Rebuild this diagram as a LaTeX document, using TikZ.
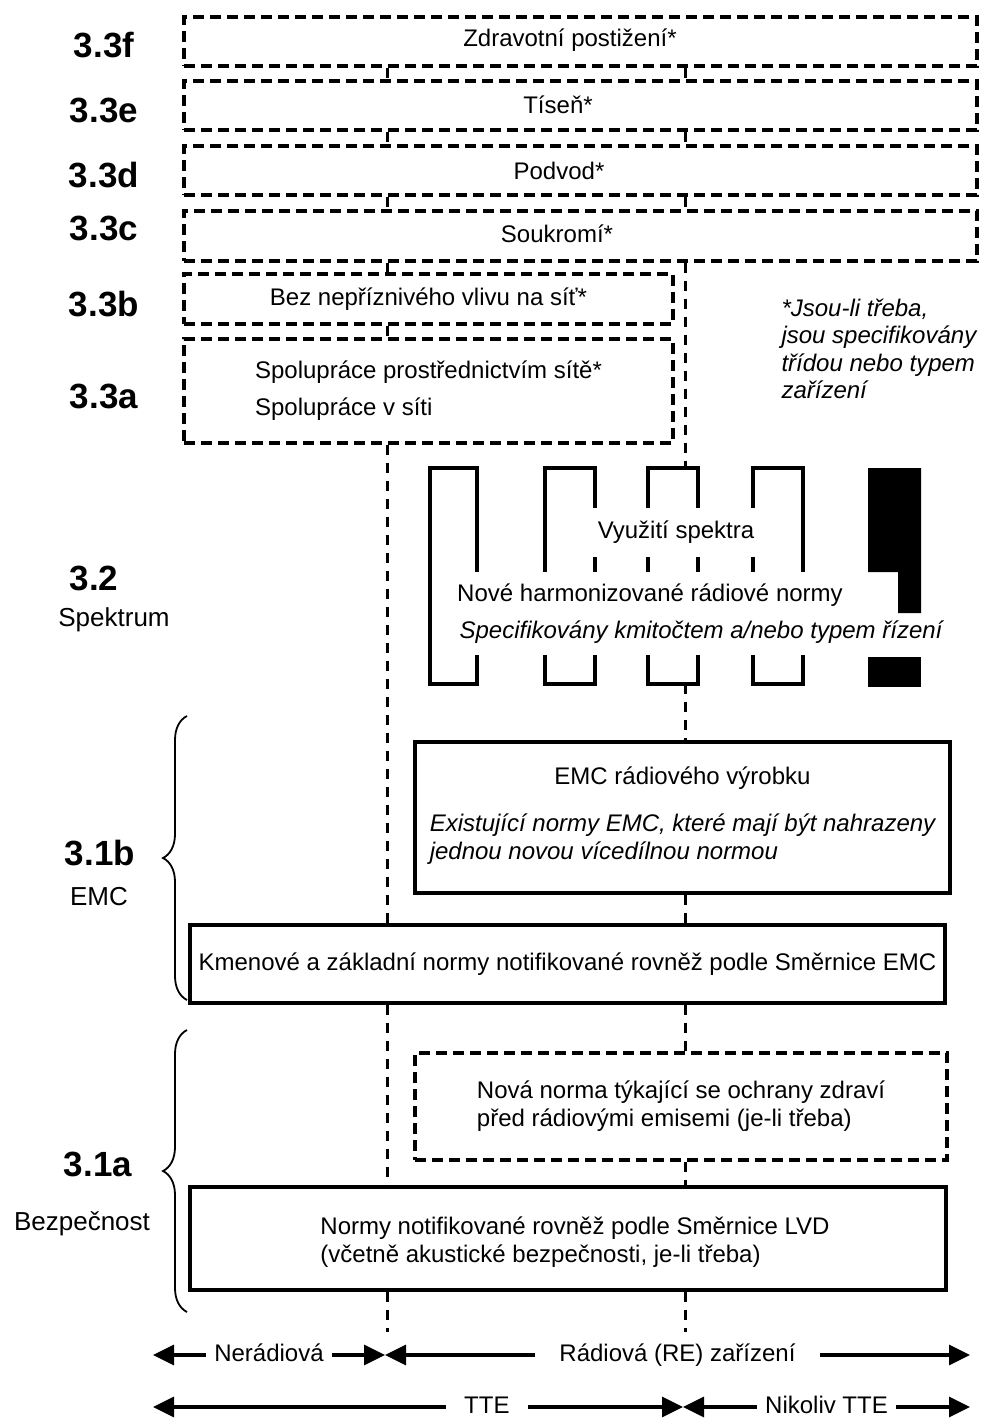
\documentclass[tikz,border=0pt]{standalone}
\usepackage{fontspec}
\setmainfont{Liberation Sans}
\usetikzlibrary{arrows.meta,decorations.pathreplacing}

\tikzset{
  txt/.style={font=\fontsize{24}{28}\selectfont},
  lbl/.style={font=\fontsize{35}{40}\selectfont\bfseries},
  side/.style={font=\fontsize{26}{30}\selectfont},
  dbox/.style={draw, line width=3.2pt, dash pattern=on 11pt off 6pt, inner sep=0pt},
  sbox/.style={draw, line width=3.2pt, inner sep=0pt},
  vline/.style={line width=3pt, dash pattern=on 10pt off 8pt},
  specline/.style={line width=3.2pt},
  spanarrow/.style={line width=3.2pt, {Triangle[length=21pt,width=20pt]}-{Triangle[length=21pt,width=20pt]}},
  spanlbl/.style={fill=white, text height=17pt, text depth=5pt, inner ysep=0pt},
  curly/.style={decorate, decoration={brace, amplitude=24pt}, line width=1.8pt},
}

\begin{document}
\begin{tikzpicture}[x=1pt,y=-1pt,txt]
\useasboundingbox (0,0) rectangle (986,1418);

% 3.3
\node[dbox, minimum width=793pt, minimum height=49pt] (f33) at (580.5,41.5) {};
\node[dbox, minimum width=793pt, minimum height=49pt] (e33) at (580.5,105.5) {};
\node[dbox, minimum width=793pt, minimum height=49pt] (d33) at (580.5,170.5) {};
\node[dbox, minimum width=793pt, minimum height=50pt] (c33) at (580.5,236) {};
\node (tf33) at (570,40) {Zdravotní postižení*};
\node (te33) at (558,105) {Tíseň*};
\node (td33) at (559,171) {Podvod*};
\node (tc33) at (557,234) {Soukromí*};
\node[dbox, minimum width=489pt, minimum height=50pt] (b33) at (428.5,299) {Bez nepříznivého vlivu na síť*};
\node[dbox, minimum width=489pt, minimum height=104pt, align=left] (a33) at (428.5,391)
  {Spolupráce prostřednictvím sítě*\\[9pt]Spolupráce v síti};
\node[font=\fontsize{24}{27.5}\selectfont\itshape, align=left, anchor=north west] (pozn) at (778,295)
  {*Jsou-li třeba,\\jsou specifikovány\\třídou nebo typem\\zařízení};

\node[lbl] (l33f) at (104,45) {3.3f};
\node[lbl] (l33e) at (104,110) {3.3e};
\node[lbl] (l33d) at (104,175) {3.3d};
\node[lbl] (l33c) at (104,228) {3.3c};
\node[lbl] (l33b) at (104,304) {3.3b};
\node[lbl] (l33a) at (104,396) {3.3a};

\coordinate (lx) at (387,0);
\coordinate (rx) at (685,0);
\foreach \u/\v in {f33/e33,e33/d33,d33/c33} {
  \draw[vline] (\u.south -| lx) -- (\v.north -| lx);
  \draw[vline] (\u.south -| rx) -- (\v.north -| rx);
}
\draw[vline] (c33.south -| lx) -- (b33.north -| lx);
\draw[vline] (b33.south -| lx) -- (a33.north -| lx);

% 3.2
\coordinate (spt) at (685,468);
\coordinate (spb) at (685,684);
\draw[vline] (c33.south -| rx) -- (spt);
\draw[specline] (477,572) -- (477,468) -- (430,468) -- (430,684) -- (477,684) -- (477,655);
\foreach \l/\r in {545/595,648/698,753/803} {
  \draw[specline] (\l,508) -- (\l,468) -- (\r,468) -- (\r,508);
  \draw[specline] (\l,655) -- (\l,684) -- (\r,684) -- (\r,655);
}
\draw[specline] (545,508) -- (545,572);
\draw[specline] (803,508) -- (803,572);
\foreach \x in {595,648,698,753}
  \draw[specline] (\x,557) -- (\x,572);
\fill (868,468) -- (921,468) -- (921,613) -- (898,613) -- (898,572) -- (868,572) -- cycle;
\fill (868,657) rectangle (921,687);

\node (vyuz) at (676,532) {Využití spektra};
\node (nove) at (650,595) {Nové harmonizované rádiové normy};
\node[font=\fontsize{24}{28}\selectfont\itshape] (kmit) at (701,632) {Specifikovány kmitočtem a/nebo typem řízení};

\node[lbl] (l32) at (94,578) {3.2};
\node[side] (spek) at (114,620) {Spektrum};

% 3.1b
\node[sbox, minimum width=535pt, minimum height=151pt, align=center] (emc) at (682.5,817.5)
  {EMC rádiového výrobku\\[21pt]\begin{tabular}{@{}l@{}}\itshape Existující normy EMC, které mají být nahrazeny\\\itshape jednou novou vícedílnou normou\end{tabular}};
\node[sbox, minimum width=755pt, minimum height=78pt] (kmen) at (567.5,964)
  {Kmenové a základní normy notifikované rovněž podle Směrnice EMC};
\draw[vline] (spb) -- (emc.north -| rx);
\draw[vline] (emc.south -| rx) -- (kmen.north -| rx);
\draw[vline] (a33.south -| lx) -- (kmen.north -| lx);

\draw[curly] (187,1000) -- (187,716);
\node[lbl] (l31b) at (100,853) {3.1b};
\node[side] (lemc) at (99,897) {EMC};

% 3.1a
\node[dbox, minimum width=532pt, minimum height=107pt, align=left] (zdr) at (681,1106.5)
  {Nová norma týkající se ochrany zdraví\\před rádiovými emisemi (je-li třeba)};
\node[sbox, minimum width=756pt, minimum height=103pt] (lvd) at (568,1238.5) {};
\node[align=left] (tlvd) at (575,1242)
  {Normy notifikované rovněž podle Směrnice LVD\\(včetně akustické bezpečnosti, je-li třeba)};
\draw[vline] (kmen.south -| rx) -- (zdr.north -| rx);
\draw[vline] (zdr.south -| rx) -- (lvd.north -| rx);
\draw[vline] (kmen.south -| lx) -- (lvd.north -| lx);

\draw[curly] (187,1312) -- (187,1030);
\node[lbl] (l31a) at (98,1164) {3.1a};
\node[side] (lbez) at (82,1224) {Bezpečnost};

% rozsahy
\coordinate (lxe) at (387,1332);
\coordinate (rxe) at (685,1332);
\draw[vline] (lvd.south -| lx) -- (lxe);
\draw[vline] (lvd.south -| rx) -- (rxe);

\coordinate (w1) at (153,1355);
\coordinate (m1) at (385,1355);
\coordinate (e1) at (970,1355);
\coordinate (w2) at (153,1407);
\coordinate (m2) at (683,1407);
\coordinate (e2) at (970,1407);
\draw[spanarrow] (w1) -- (m1) node[midway, spanlbl, inner xsep=8pt] (nerad) {Nerádiová};
\draw[spanarrow] (m1) -- (e1) node[midway, spanlbl, inner xsep=24pt] (rad) {Rádiová (RE) zařízení};
\draw[spanarrow] (w2) -- (m2) node[pos=0.63, spanlbl, inner xsep=18pt] (tte) {TTE};
\draw[spanarrow] (m2) -- (e2) node[midway, spanlbl, inner xsep=8pt] (ntte) {Nikoliv TTE};
\end{tikzpicture}
\end{document}
